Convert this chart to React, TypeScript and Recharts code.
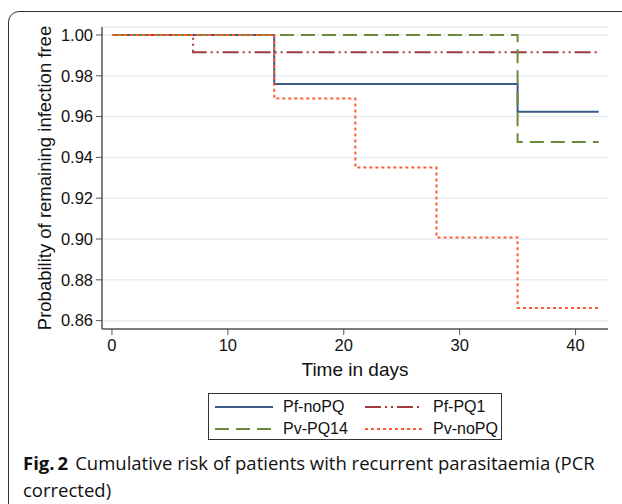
import React from 'react';
import { LineChart, Line, XAxis, YAxis, CartesianGrid, Legend } from 'recharts';

const days = [0, 7, 14, 21, 28, 35, 42];
const pfNoPQ = [1, 1, 0.976, 0.976, 0.976, 0.9624, 0.9624];
const pfPQ1 = [1, 0.9915, 0.9915, 0.9915, 0.9915, 0.9915, 0.9915];
const pvPQ14 = [1, 1, 1, 1, 1, 0.9475, 0.9475];
const pvNoPQ = [1, 1, 0.9688, 0.935, 0.9008, 0.8662, 0.8662];
const xTicks = [0, 10, 20, 30, 40];
const yTicks = [0.86, 0.88, 0.9, 0.92, 0.94, 0.96, 0.98, 1.0];

const seriesNames = ['Pf-noPQ', 'Pf-PQ1', 'Pv-PQ14', 'Pv-noPQ'];
const seriesColors = ['#3a5a86', '#9e3c3e', '#6b8b3b', '#ff5a32'];
const seriesDash = ['', '16 4 2 4 2 4', '14 7', '3 3'];
const seriesKeys = ['pfNoPQ', 'pfPQ1', 'pvPQ14', 'pvNoPQ'];

const data = days.map((d, i) => ({
  day: d,
  pfNoPQ: pfNoPQ[i],
  pfPQ1: pfPQ1[i],
  pvPQ14: pvPQ14[i],
  pvNoPQ: pvNoPQ[i],
}));

const axisFont = 'Liberation Sans, Arial, sans-serif';

const LegendBox = () => {
  const order = [0, 1, 2, 3];
  return (
    <div
      style={{
        border: '1px solid #333',
        width: 294,
        height: 47,
        boxSizing: 'border-box',
        position: 'relative',
        background: '#fff',
        fontFamily: axisFont,
        fontSize: 16,
        color: '#111',
      }}
    >
      {order.map((i) => {
        const col = i % 2;
        const row = Math.floor(i / 2);
        const left = col === 0 ? 6 : 156;
        const top = row === 0 ? 4 : 26;
        return (
          <div key={i} style={{ position: 'absolute', left, top, height: 18, display: 'flex', alignItems: 'center' }}>
            <svg width={58} height={18} style={{ display: 'block' }}>
              <line
                x1={0}
                y1={9}
                x2={58}
                y2={9}
                stroke={seriesColors[i]}
                strokeWidth={2}
                strokeDasharray={seriesDash[i] || undefined}
              />
            </svg>
            <span style={{ marginLeft: 10, lineHeight: '18px', whiteSpace: 'nowrap' }}>{seriesNames[i]}</span>
          </div>
        );
      })}
    </div>
  );
};

export default function App() {
  return (
    <div style={{ position: 'fixed', left: 0, top: 0, width: 622, height: 504, background: '#fff', overflow: 'hidden' }}>
      <div
        style={{
          position: 'absolute',
          left: 8,
          top: 11,
          width: 640,
          height: 520,
          border: '1.5px solid #333',
          borderRadius: 11,
          boxSizing: 'border-box',
        }}
      />
      <div style={{ position: 'absolute', left: 0, top: 0 }}>
        <LineChart
          width={622}
          height={504}
          data={data}
          margin={{ top: 27, right: 14, left: 0, bottom: 128 }}
        >
          <CartesianGrid horizontal={true} vertical={false} stroke="#e6eef3" strokeWidth={1.5} />
          <XAxis
            dataKey="day"
            type="number"
            domain={[-0.86, 42.8]}
            ticks={xTicks}
            allowDataOverflow
            height={47}
            tickLine={{ stroke: '#555' }}
            axisLine={{ stroke: '#555', strokeWidth: 1.5 }}
            tickSize={6}
            tickMargin={4}
            tick={{ fill: '#111', fontSize: 16.5, fontFamily: axisFont }}
            label={{ value: 'Time in days', position: 'insideBottom', offset: 0, fill: '#111', fontSize: 19, fontFamily: axisFont }}
          />
          <YAxis
            type="number"
            domain={[0.8559, 1.0039]}
            ticks={yTicks}
            allowDataOverflow
            width={102}
            tickFormatter={(v: number) => v.toFixed(2)}
            tickLine={{ stroke: '#555' }}
            axisLine={{ stroke: '#555', strokeWidth: 1.5 }}
            tickSize={6}
            tickMargin={3}
            tick={{ fill: '#111', fontSize: 16.5, fontFamily: axisFont }}
            label={{
              value: 'Probability of remaining infection free',
              angle: -90,
              position: 'insideLeft',
              offset: 44,
              style: { textAnchor: 'middle' },
              fill: '#111',
              fontSize: 18.5,
              fontFamily: axisFont,
            }}
          />
          {seriesKeys.map((k, i) => (
            <Line
              key={k}
              dataKey={k}
              name={seriesNames[i]}
              type="stepAfter"
              stroke={seriesColors[i]}
              strokeWidth={2}
              strokeDasharray={seriesDash[i] || undefined}
              dot={false}
              activeDot={false}
              isAnimationActive={false}
            />
          ))}
          <Legend
            layout="vertical"
            align="center"
            verticalAlign="middle"
            content={() => <LegendBox />}
            wrapperStyle={{ left: 208, top: 393, width: 294, height: 47 }}
          />
        </LineChart>
      </div>
      <div
        style={{
          position: 'absolute',
          left: 23,
          top: 449,
          width: 598,
          fontFamily: '"Open Sans", sans-serif',
          fontSize: 18.5,
          lineHeight: '27px',
          color: '#111',
          whiteSpace: 'nowrap',
        }}
      >
        <div>
          <span style={{ fontWeight: 700, marginRight: 7 }}>Fig.&#8201;2</span>
          <span>Cumulative risk of patients with recurrent parasitaemia (PCR</span>
        </div>
        <div>corrected)</div>
      </div>
    </div>
  );
}
